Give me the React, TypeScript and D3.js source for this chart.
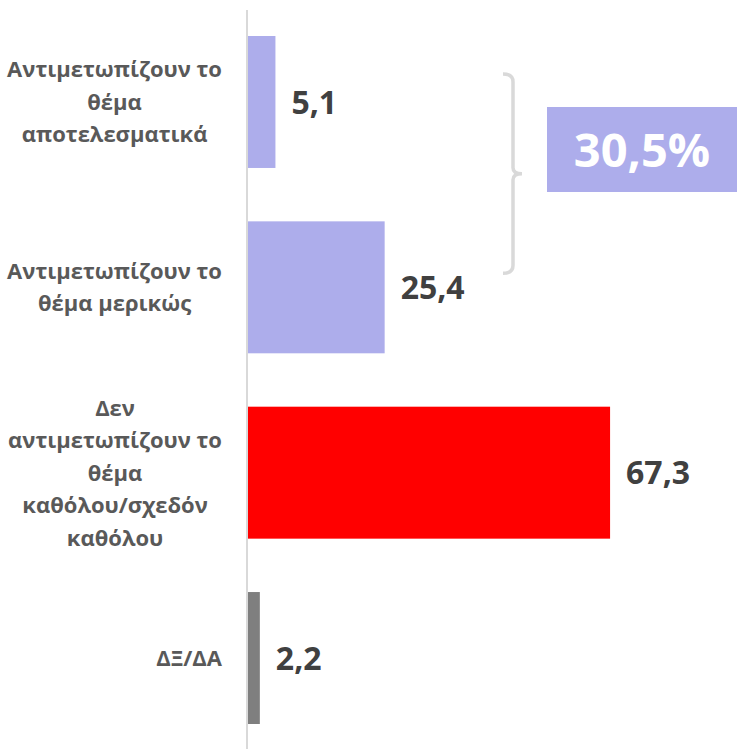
import React, { useEffect, useRef } from 'react';
import * as d3 from 'd3';

const categories = [
  ['Αντιμετωπίζουν το', 'θέμα', 'αποτελεσματικά'],
  ['Αντιμετωπίζουν το', 'θέμα μερικώς'],
  ['Δεν', 'αντιμετωπίζουν το', 'θέμα', 'καθόλου/σχεδόν', 'καθόλου'],
  ['ΔΞ/ΔΑ'],
];
const values = [5.1, 25.4, 67.3, 2.2];
const barColors = ['#ADADEB', '#ADADEB', '#FF0000', '#7F7F7F'];
// the bracket groups the first two answers
const groupIdx = [0, 1];

const W = 737;
const H = 749;
const FONT = '"Open Sans", sans-serif';
const fmt = (v: number) => d3.format('.1f')(v).replace('.', ',');

const App = () => {
  const svgRef = useRef<SVGSVGElement>(null);

  useEffect(() => {
    const svg = d3.select(svgRef.current);
    svg.selectAll('*').remove();

    const keys = categories.map((_, i) => String(i));
    const y = d3.scaleBand().domain(keys).range([36, 724]).paddingInner(0.288).paddingOuter(0);
    const x = d3.scaleLinear().domain([0, 70]).range([248, 624.6]);

    // axis line
    svg.append('line')
      .attr('x1', 247).attr('x2', 247).attr('y1', 10).attr('y2', H)
      .attr('stroke', '#d9d9d9').attr('stroke-width', 2);

    svg.selectAll('.bar')
      .data(values)
      .enter().append('rect')
      .attr('class', 'bar')
      .attr('x', x(0))
      .attr('y', (_, i) => y(String(i))!)
      .attr('width', d => x(d) - x(0))
      .attr('height', y.bandwidth())
      .attr('fill', (_, i) => barColors[i]);

    svg.selectAll('.val')
      .data(values)
      .enter().append('text')
      .attr('class', 'val')
      .attr('x', d => x(d) + 16)
      .attr('y', (_, i) => y(String(i))! + y.bandwidth() / 2)
      .attr('dy', '0.36em')
      .attr('font-family', FONT)
      .attr('font-weight', 700)
      .attr('font-size', 32)
      .attr('fill', '#404040')
      .text(d => fmt(d));

    // category labels: block right-aligned to 222, lines centred in block
    const lineH = 32.5;
    const rightEdge = 222;
    categories.forEach((lines, i) => {
      const g = svg.append('g');
      const cy = y(String(i))! + y.bandwidth() / 2;
      const texts = lines.map((ln, j) =>
        g.append('text')
          .attr('y', cy + (j - (lines.length - 1) / 2) * lineH)
          .attr('dy', '0.36em')
          .attr('text-anchor', 'middle')
          .attr('font-family', FONT)
          .attr('font-weight', 700)
          .attr('font-size', 22)
          .attr('fill', '#595959')
          .text(ln)
      );
      const maxW = d3.max(texts, t => (t.node() as SVGTextElement).getComputedTextLength()) || 0;
      texts.forEach(t => t.attr('x', rightEdge - maxW / 2));
    });

    // brace
    const top = y(String(groupIdx[0]))! + 38;
    const bot = y(String(groupIdx[1]))! + 52;
    const mid = (top + bot) / 2;
    const bx = 513;
    const brace = d3.path();
    brace.moveTo(bx - 10, top);
    brace.quadraticCurveTo(bx, top, bx, top + 8);
    brace.lineTo(bx, mid - 6);
    brace.quadraticCurveTo(bx, mid, bx + 9, mid);
    brace.quadraticCurveTo(bx, mid, bx, mid + 6);
    brace.lineTo(bx, bot - 8);
    brace.quadraticCurveTo(bx, bot, bx - 10, bot);
    svg.append('path')
      .attr('d', brace.toString())
      .attr('fill', 'none')
      .attr('stroke', '#d9d9d9')
      .attr('stroke-width', 3.5);

    const total = d3.sum(groupIdx, i => values[i]);
    svg.append('rect')
      .attr('x', 547).attr('y', 107).attr('width', W - 547).attr('height', 85)
      .attr('fill', '#ADADEB');
    svg.append('text')
      .attr('x', 642).attr('y', 150).attr('dy', '0.36em')
      .attr('text-anchor', 'middle')
      .attr('font-family', FONT)
      .attr('font-weight', 700)
      .attr('font-size', 47)
      .attr('fill', '#ffffff')
      .text(fmt(total) + '%');
  }, []);

  return (
    <svg ref={svgRef} width={W} height={H}
      style={{ position: 'absolute', left: 0, top: 0, background: '#fff' }} />
  );
};

export default App;
